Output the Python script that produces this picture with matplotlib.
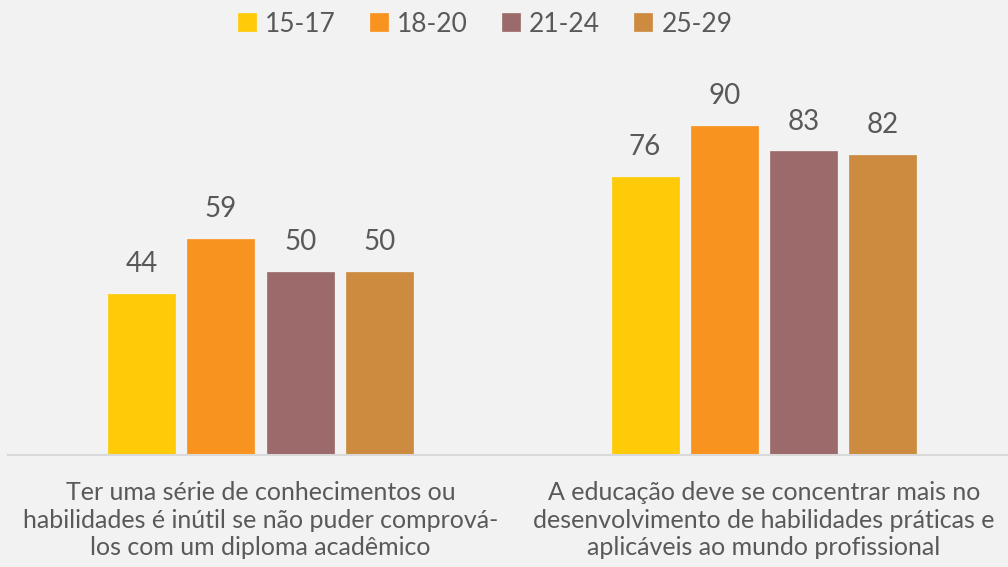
import matplotlib
matplotlib.use("Agg")
import matplotlib.pyplot as plt
import numpy as np

# Data
categories = [
    "Ter uma série de conhecimentos ou\nhabilidades é inútil se não puder comprová-\nlos com um diploma acadêmico",
    "A educação deve se concentrar mais no\ndesenvolvimento de habilidades práticas e\naplicáveis ao mundo profissional",
]
series_names = ["15-17", "18-20", "21-24", "25-29"]
values = {
    "15-17": [44, 76],
    "18-20": [59, 90],
    "21-24": [50, 83],
    "25-29": [50, 82],
}
colors = ["#FFCA08", "#F7931E", "#9C6A6A", "#CC8B3F"]

plt.rcParams["font.family"] = ["Lato", "DejaVu Sans"]
text_color = "#595959"
bg = "#F2F2F2"

fig = plt.figure(figsize=(10.08, 5.67), dpi=100, facecolor=bg)
ax = fig.add_axes([8 / 1008, (567 - 455) / 567, 1000 / 1008, 395 / 567])
ax.set_facecolor(bg)

x = np.arange(len(categories))
width = 0.133
step = 0.1575
offsets = (np.arange(len(series_names)) - 1.5) * step

for i, (name, col) in enumerate(zip(series_names, colors)):
    vals = values[name]
    bars = ax.bar(x + offsets[i], vals, width=width, color=col, label=name,
                  edgecolor=col, linewidth=0.5, zorder=2)
    for b, v in zip(bars, vals):
        ax.text(b.get_x() + b.get_width() / 2, v + 4.6, f"{v}",
                ha="center", va="bottom", fontsize=20, color=text_color)

ax.set_xlim(-0.5015, 1.4846)
ax.set_ylim(0, 108)
ax.set_yticks([])
ax.set_xticks(x)
ax.set_xticklabels(categories, fontsize=18, color=text_color, linespacing=1.22)
ax.tick_params(axis="x", length=0, pad=19)
for s in ["top", "right", "left"]:
    ax.spines[s].set_visible(False)
ax.spines["bottom"].set_color("#D9D9D9")
ax.spines["bottom"].set_linewidth(1.5)

leg = fig.legend(loc="center", bbox_to_anchor=(485 / 1008, 1 - 24 / 567), ncol=4,
                 frameon=False, fontsize=19, handlelength=0.68, handleheight=0.68,
                 handletextpad=0.35, columnspacing=1.29, labelcolor=text_color)

fig.savefig("out.png", dpi=100, facecolor=bg)
